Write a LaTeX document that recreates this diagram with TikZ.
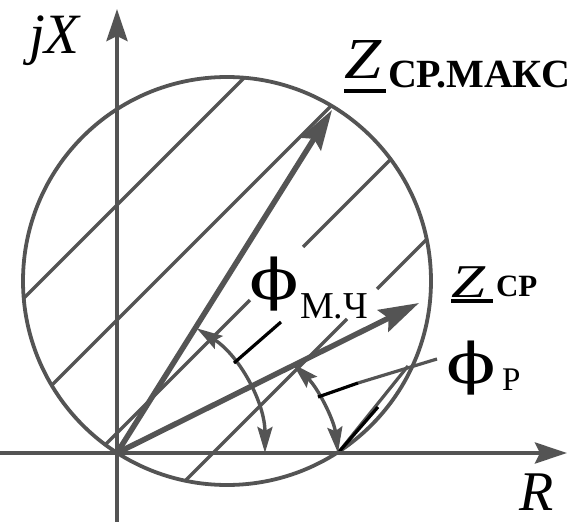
\documentclass[tikz,border=0pt]{standalone}
\usepackage{fontspec}
\setmainfont{Liberation Serif}
\newfontfamily\phif{DejaVu Serif}
\usetikzlibrary{arrows.meta}
\definecolor{ink}{gray}{0.33}
\begin{document}
\begin{tikzpicture}[x=1pt,y=-1pt,
  hatch/.style={draw=ink, line width=3.2pt},
  rim/.style={draw=ink, line width=3.8pt},
  axisln/.style={draw=ink, line width=3.8pt, -{Stealth[length=32pt,width=21pt,inset=5pt]}},
  vec/.style={draw=ink, line width=5.5pt, -{Stealth[length=40pt,width=24pt,inset=6pt]}},
  angarc/.style={draw=ink, line width=3.4pt, {Stealth[length=26pt,width=15pt,inset=4pt]}-{Stealth[length=26pt,width=15pt,inset=4pt]}},
  lead/.style={draw=black, line width=3.2pt},
  ul/.style={draw=black, line width=3.6pt},
  lbl/.style={inner sep=0pt, outer sep=0pt, text=black, anchor=base west, text depth=0pt}]
\useasboundingbox (0,0) rectangle (582,522);
% key points
\coordinate (O) at (117,453);
\coordinate (C0) at (227,281);
\coordinate (Ytop) at (117,9);
\coordinate (Ybot) at (117,522);
\coordinate (Xl) at (0,453);
\coordinate (Xr) at (567,453);
\coordinate (Zm) at (332,110);
\coordinate (Zc) at (419,303);
% circle
\draw[rim] (C0) circle[radius=204pt];
% hatching
\begin{scope}
  \clip (C0) circle[radius=203pt];
  \draw[hatch] (0,322) -- (322,0);
  \draw[hatch] (0,437) -- (437,0);
  \draw[hatch] (90,460) -- (250,300);
  \draw[hatch] (303,247) -- (430,120);
  \draw[hatch] (150,516) -- (347,319);
  \draw[hatch] (377,289) -- (470,196);
\end{scope}
\coordinate (E1) at (338,453);
\coordinate (E2) at (378,407);
\coordinate (E3) at (408,366);
\draw[hatch] (E1) -- (E3);
\draw[lead] (E1) -- (E2);
% axes
\draw[axisln] (Ybot) -- (Ytop);
\draw[axisln] (Xl) -- (Xr);
% vectors
\draw[vec] (O) -- (Zm);
\draw[vec] (O) -- (Zc);
% angle arcs
\draw[angarc] (196.7,328.3) arc[start angle=57.4, end angle=0, radius=148pt];
\coordinate (P1) at (293,364);
\coordinate (P2) at (338,453);
\draw[angarc] (P1) .. controls (318,388) and (334,420) .. (P2);
% leaders
\coordinate (L1) at (234,363);
\coordinate (L2) at (281,322);
\draw[lead] (L1) -- (L2);
\coordinate (L3) at (318,397);
\coordinate (L4) at (358,383);
\coordinate (L5) at (437,359);
\draw[hatch] (L4) -- (L5);
\draw[lead] (L3) -- (L4);
% labels
\node[lbl, font=\fontsize{57}{60}\selectfont\itshape] (jx) at (29,53) {jX};
\node[lbl, font=\fontsize{56}{60}\selectfont\itshape] (rl) at (519,510) {R};
\node[lbl, font=\fontsize{58}{60}\selectfont\itshape] (zm) at (344,78) {\scalebox{1.15}[1]{Z}};
\draw[ul] (344,91) -- (386,91);
\node[lbl, font=\fontsize{40}{42}\selectfont\bfseries] (zms) at (388,87) {СР.МАКС};
\node[lbl, font=\fontsize{47}{48}\selectfont\itshape] (zc) at (451,297) {\scalebox{1.3}[1]{Z}};
\draw[ul] (451,301) -- (493,301);
\node[lbl, font=\fontsize{31}{33}\selectfont\bfseries] (zcs) at (496,296) {СР};
\node[lbl, font=\fontsize{56}{60}\selectfont\phif] (pm) at (249,299) {\scalebox{1.3}[1]{ϕ}};
\node[lbl, font=\fontsize{38}{40}\selectfont] (pms) at (300,318) {М.Ч};
\node[lbl, font=\fontsize{56}{60}\selectfont\phif] (pr) at (446,383) {\scalebox{1.3}[1]{ϕ}};
\node[lbl, font=\fontsize{33}{35}\selectfont] (prs) at (502,390) {Р};
\end{tikzpicture}
\end{document}
